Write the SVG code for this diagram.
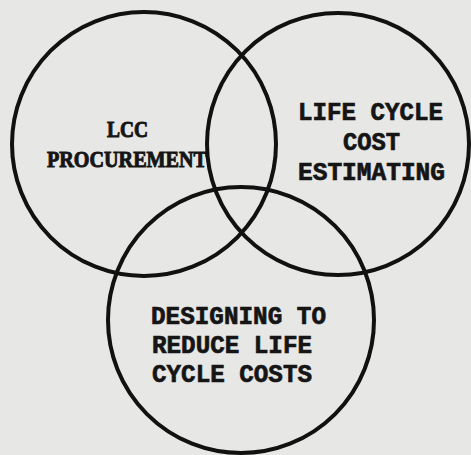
<svg xmlns="http://www.w3.org/2000/svg" width="471" height="455" viewBox="0 0 471 455">
  <style>
    .ring { fill: none; stroke: #111; stroke-width: 4; }
    .serif { font-family: "Liberation Serif", "DejaVu Serif", serif; font-weight: 700; font-size: 24px; fill: #151515; stroke: #151515; stroke-width: 1; }
    .type { font-family: "Liberation Mono", "DejaVu Sans Mono", monospace; font-weight: bold; font-size: 25px; fill: #151515; stroke: #151515; stroke-width: 0.7; }
  </style>
  <!-- paper -->
  <rect x="0" y="0" width="471" height="455" fill="#e7e7e5"/>

  <g id="connectors"></g>

  <g id="lcc-procurement">
    <circle class="ring" cx="144" cy="144" r="132"/>
    <text class="serif" x="107" y="137" textLength="41" lengthAdjust="spacingAndGlyphs">LCC</text>
    <text class="serif" x="47" y="167" textLength="160" lengthAdjust="spacingAndGlyphs">PROCUREMENT</text>
  </g>

  <g id="life-cycle-cost-estimating">
    <circle class="ring" cx="338" cy="144" r="131"/>
    <text class="type" x="298" y="120" textLength="145" lengthAdjust="spacingAndGlyphs">LIFE CYCLE</text>
    <text class="type" x="343" y="150" textLength="57" lengthAdjust="spacingAndGlyphs">COST</text>
    <text class="type" x="298" y="180" textLength="147" lengthAdjust="spacingAndGlyphs">ESTIMATING</text>
  </g>

  <g id="designing-to-reduce">
    <circle class="ring" cx="241" cy="320" r="133"/>
    <text class="type" x="151" y="324" textLength="175" lengthAdjust="spacingAndGlyphs">DESIGNING TO</text>
    <text class="type" x="152" y="353" textLength="160" lengthAdjust="spacingAndGlyphs">REDUCE LIFE</text>
    <text class="type" x="152" y="382" textLength="160" lengthAdjust="spacingAndGlyphs">CYCLE COSTS</text>
  </g>
</svg>
